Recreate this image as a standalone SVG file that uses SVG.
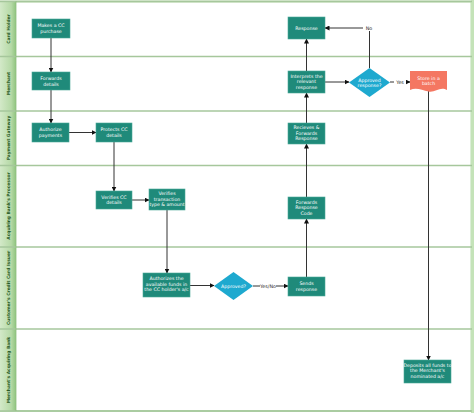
<svg xmlns="http://www.w3.org/2000/svg" width="474" height="413" viewBox="0 0 474 413">
<defs>
<linearGradient id="hdr" x1="0" y1="0" x2="1" y2="0">
<stop offset="0" stop-color="#d3e9c8"/>
<stop offset="0.7" stop-color="#b5d9a6"/>
<stop offset="1" stop-color="#8fc47e"/>
</linearGradient>
<marker id="arr" viewBox="0 0 10 10" refX="9" refY="5" markerWidth="5" markerHeight="5" orient="auto" markerUnits="userSpaceOnUse">
<path d="M0,0 L10,5 L0,10 Z" fill="#111"/>
</marker>
<style>
.proc{fill:#1f8a7a;stroke:#4aa898;stroke-width:0.6}
.dec{fill:#1ea9cf}
.doc{fill:#f47762}
.nt{font-family:"DejaVu Sans",sans-serif;font-size:4.7px;fill:#ffffff;text-anchor:middle}
.lt{font-family:"DejaVu Sans",sans-serif;font-size:4.4px;fill:#2a5a26;text-anchor:middle;font-weight:600}
.el{font-family:"DejaVu Sans",sans-serif;font-size:4.8px;fill:#222;text-anchor:middle}
.ln{stroke:#a6c79c;stroke-width:1.5}
.c{fill:none;stroke:#333;stroke-width:1}
</style>
</defs>
<rect x="0" y="0" width="474" height="413" fill="#ffffff"/>
<g id="lanes">
<rect x="0.5" y="1.5" width="471" height="409.5" fill="#ffffff" stroke="#b9dcae" stroke-width="2"/>
<rect x="471" y="0" width="3" height="413" fill="#c4e3b8"/>
<rect x="0" y="1" width="16" height="410" fill="url(#hdr)"/>
<line class="ln" x1="0" y1="1.5" x2="472" y2="1.5"/>
<line class="ln" x1="0" y1="56.5" x2="472" y2="56.5"/>
<line class="ln" x1="0" y1="111" x2="472" y2="111"/>
<line class="ln" x1="0" y1="165.5" x2="472" y2="165.5"/>
<line class="ln" x1="0" y1="247" x2="472" y2="247"/>
<line class="ln" x1="0" y1="329" x2="472" y2="329"/>
<line class="ln" x1="0" y1="411" x2="472" y2="411"/>
<line x1="16" y1="1" x2="16" y2="411" stroke="#8fbf80" stroke-width="0.8"/>
<text class="lt" transform="translate(9.8 29) rotate(-90)">Card Holder</text>
<text class="lt" transform="translate(9.8 83.5) rotate(-90)">Merchant</text>
<text class="lt" transform="translate(9.8 138) rotate(-90)">Payment Gateway</text>
<text class="lt" transform="translate(9.8 206) rotate(-90)">Acquiring Bank's Processor</text>
<text class="lt" transform="translate(9.8 288) rotate(-90)">Customer's Credit Card Issuer</text>
<text class="lt" transform="translate(9.8 370) rotate(-90)">Merchant's Acquiring Bank</text>
</g>
<g id="connectors">
<path class="c" d="M51,38 V72" marker-end="url(#arr)"/>
<path class="c" d="M51,90 V123" marker-end="url(#arr)"/>
<path class="c" d="M69,132.5 H96" marker-end="url(#arr)"/>
<path class="c" d="M114,142 V191" marker-end="url(#arr)"/>
<path class="c" d="M132,200 H149" marker-end="url(#arr)"/>
<path class="c" d="M167,210 V273" marker-end="url(#arr)"/>
<path class="c" d="M190,285.5 H214" marker-end="url(#arr)"/>
<path class="c" d="M253,286 H288" marker-end="url(#arr)"/>
<path class="c" d="M306.5,277 V219" marker-end="url(#arr)"/>
<path class="c" d="M306.5,197 V144" marker-end="url(#arr)"/>
<path class="c" d="M306.5,123 V93" marker-end="url(#arr)"/>
<path class="c" d="M306.5,71 V39" marker-end="url(#arr)"/>
<path class="c" d="M325,82 H349" marker-end="url(#arr)"/>
<path class="c" d="M390,82 H410" marker-end="url(#arr)"/>
<path class="c" d="M369.5,68 V28 H325" marker-end="url(#arr)"/>
<path class="c" d="M428.5,91 V360" marker-end="url(#arr)"/>
<rect x="363" y="25" width="12" height="6" fill="#ffffff"/>
<text class="el" x="369" y="29.8">No</text>
<rect x="394" y="79" width="12" height="6" fill="#ffffff"/>
<text class="el" x="400" y="83.8">Yes</text>
<rect x="260" y="283" width="16" height="6" fill="#ffffff"/>
<text class="el" x="268" y="287.8">Yes/No</text>
</g>
<g id="n-makes-purchase">
<rect class="proc" x="32" y="19" width="38" height="19"/>
<text class="nt" x="51" y="27">Makes a CC</text>
<text class="nt" x="51" y="33">purchase</text>
</g>
<g id="n-forwards-details">
<rect class="proc" x="32" y="72" width="38" height="18"/>
<text class="nt" x="51" y="80">Forwards</text>
<text class="nt" x="51" y="86">details</text>
</g>
<g id="n-response">
<rect class="proc" x="288" y="17" width="37" height="22"/>
<text class="nt" x="306.5" y="29.5">Response</text>
</g>
<g id="n-interprets">
<rect class="proc" x="288" y="71" width="37" height="22"/>
<text class="nt" x="306.5" y="77.5">Interprets the</text>
<text class="nt" x="306.5" y="83.2">relevant</text>
<text class="nt" x="306.5" y="88.9">response</text>
</g>
<g id="n-approved-response">
<polygon class="dec" points="369.5,68 390,82.5 369.5,97 349,82.5"/>
<text class="nt" x="369.5" y="81.5">Approved</text>
<text class="nt" x="369.5" y="87">response?</text>
</g>
<g id="n-store-batch">
<path class="doc" d="M410,71 H447 V90 C440,86 435,93 428.5,91.5 C422,90 416,87 410,90 Z"/>
<text class="nt" x="428.5" y="79.5">Store in a</text>
<text class="nt" x="428.5" y="85">batch</text>
</g>
<g id="n-authorize-payments">
<rect class="proc" x="32" y="123" width="37" height="19"/>
<text class="nt" x="50.5" y="131">Authorize</text>
<text class="nt" x="50.5" y="136.7">payments</text>
</g>
<g id="n-protects">
<rect class="proc" x="96" y="123" width="36" height="19"/>
<text class="nt" x="114" y="131">Protects CC</text>
<text class="nt" x="114" y="136.7">details</text>
</g>
<g id="n-recieves">
<rect class="proc" x="288" y="123" width="37" height="21"/>
<text class="nt" x="306.5" y="129">Recieves &amp;</text>
<text class="nt" x="306.5" y="134.5">Forwards</text>
<text class="nt" x="306.5" y="140">Response</text>
</g>
<g id="n-verifies-cc">
<rect class="proc" x="96" y="191" width="36" height="18"/>
<text class="nt" x="114" y="198.5">Verifies CC</text>
<text class="nt" x="114" y="204.2">details</text>
</g>
<g id="n-verifies-transaction">
<rect class="proc" x="149" y="189" width="36" height="21"/>
<text class="nt" x="167" y="195">Verifies</text>
<text class="nt" x="167" y="200.5">transaction</text>
<text class="nt" x="167" y="206">type &amp; amount</text>
</g>
<g id="n-forwards-code">
<rect class="proc" x="288" y="197" width="37" height="22"/>
<text class="nt" x="306.5" y="203.5">Forwards</text>
<text class="nt" x="306.5" y="209">Response</text>
<text class="nt" x="306.5" y="214.5">Code</text>
</g>
<g id="n-authorizes-funds">
<rect class="proc" x="143" y="273" width="47" height="24"/>
<text class="nt" x="166.5" y="280">Authorizes the</text>
<text class="nt" x="166.5" y="285.7">available funds in</text>
<text class="nt" x="166.5" y="291.4">the CC holder's a/c</text>
</g>
<g id="n-approved">
<polygon class="dec" points="233.5,272 253,286 233.5,300 214,286"/>
<text class="nt" x="233.5" y="287.8">Approved?</text>
</g>
<g id="n-sends-response">
<rect class="proc" x="288" y="277" width="37" height="19"/>
<text class="nt" x="306.5" y="285">Sends</text>
<text class="nt" x="306.5" y="290.7">response</text>
</g>
<g id="n-deposits">
<rect class="proc" x="404" y="360" width="47" height="23"/>
<text class="nt" x="427.5" y="366.5">Deposits all funds to</text>
<text class="nt" x="427.5" y="372.2">the Merchant's</text>
<text class="nt" x="427.5" y="377.9">nominated a/c</text>
</g>
</svg>
